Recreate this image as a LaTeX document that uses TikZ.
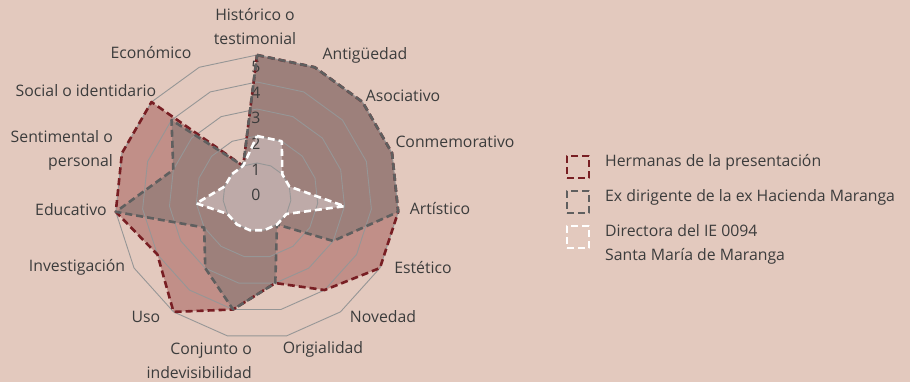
\documentclass[tikz,border=0pt]{standalone}
\usepackage{fontspec}
\setmainfont{Open Sans}
\usetikzlibrary{calc}
\definecolor{bg}{RGB}{227,201,190}
\definecolor{redfill}{RGB}{193,143,136}
\definecolor{grayfill}{RGB}{157,128,123}
\definecolor{whitefill}{RGB}{190,170,168}
\definecolor{redline}{RGB}{120,30,35}
\definecolor{grayline}{RGB}{95,95,95}
\definecolor{gridline}{RGB}{150,150,150}
\definecolor{txt}{RGB}{60,60,60}
\tikzset{
  gridring/.style={draw=gridline, line width=0.9pt, line join=round},
  serline/.style={line width=2.6pt, dash pattern=on 7pt off 4pt, line join=round},
  legbox/.style={serline, minimum width=22pt, minimum height=22pt, inner sep=0pt},
  lab/.style={text=txt, inner sep=0pt},
  vlab/.style={text=txt, inner sep=0pt},
}
\newcommand{\Rk}[1]{(7+27*(#1))}
\begin{document}
\begin{tikzpicture}[x=1pt,y=-1pt,font=\fontsize{15.8}{24}\selectfont]
\fill[bg] (0,0) rectangle (910,382);
\useasboundingbox (0,0) rectangle (910,382);

% series vertices
\foreach \v [count=\i from 0] in {5,5,5,5,5,5,4,3,4,5,4,5,5,5,1}
  \coordinate (R\i) at ({257+\Rk{\v}*sin(24*\i)},{197-\Rk{\v}*cos(24*\i)});
\foreach \v [count=\i from 0] in {5,5,5,5,5,3,1,3,4,3,2,5,3,4,1}
  \coordinate (G\i) at ({257+\Rk{\v}*sin(24*\i)},{197-\Rk{\v}*cos(24*\i)});
\foreach \v [count=\i from 0] in {2,2,1,1,3,1,1,1,1,1,1,2,1,1,1}
  \coordinate (W\i) at ({257+\Rk{\v}*sin(24*\i)},{197-\Rk{\v}*cos(24*\i)});

% fills
\fill[redfill] (R0) \foreach \i in {1,...,14}{ -- (R\i)} -- cycle;
\fill[grayfill] (G0) \foreach \i in {1,...,14}{ -- (G\i)} -- cycle;
\fill[whitefill] (W0) \foreach \i in {1,...,14}{ -- (W\i)} -- cycle;

% grid rings
\foreach \k in {1,...,5}{
  \draw[gridring] ({257},{197-\Rk{\k}}) \foreach \i in {1,...,14}{ -- ({257+\Rk{\k}*sin(24*\i)},{197-\Rk{\k}*cos(24*\i)})} -- cycle;
}

% value labels
\foreach \k in {0,...,5}
  \node[vlab] (v\k) at (256,{195-25.6*\k}) {\k};

% outlines
\draw[serline, redline] (R0) \foreach \i in {1,...,14}{ -- (R\i)} -- cycle;
\draw[serline, grayline] (G0) \foreach \i in {1,...,14}{ -- (G\i)} -- cycle;
\draw[serline, white] (W0) \foreach \i in {1,...,14}{ -- (W\i)} -- cycle;

% axis labels
\node[lab, align=center] (lhis) at (255,27) {Histórico o\\testimonial};
\node[lab] (lant) at (365,55) {Antigüedad};
\node[lab] (laso) at (403,96) {Asociativo};
\node[lab] (lcon) at (455,142) {Conmemorativo};
\node[lab] (lart) at (440,209) {Artístico};
\node[lab] (lest) at (423,268) {Estético};
\node[lab] (lnov) at (383,317) {Novedad};
\node[lab] (lori) at (323,349) {Origialidad};
\node[lab, align=right, anchor=east] (lconj) at (252,361) {Conjunto o\\indevisibilidad};
\node[lab] (luso) at (146,317) {Uso};
\node[lab] (linv) at (77,267) {Investigación};
\node[lab] (ledu) at (71,210) {Educativo};
\node[lab, align=right, anchor=east] (lsen) at (113,150) {Sentimental o\\personal};
\node[lab] (lsoc) at (86,91) {Social o identidario};
\node[lab] (leco) at (151,53) {Económico};

% legend
\node[legbox, draw=redline] (k1) at (578,167) {};
\node[legbox, draw=grayline] (k2) at (578,202) {};
\node[legbox, draw=white] (k3) at (578,237) {};
\node[lab, anchor=west] (t1) at (605,162) {Hermanas de la presentación};
\node[lab, anchor=west] (t2) at (605,197) {Ex dirigente de la ex Hacienda Maranga};
\node[lab, anchor=west, align=left] (t3) at (605,244) {Directora del IE 0094\\Santa María de Maranga};
\end{tikzpicture}
\end{document}
